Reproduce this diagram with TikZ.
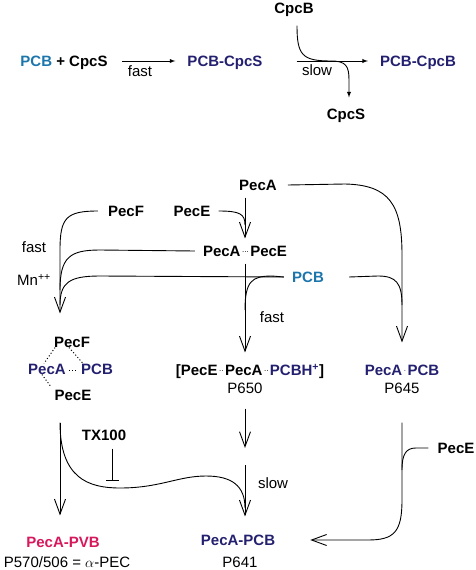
\documentclass[tikz,border=0pt]{standalone}
\usepackage{fontspec}
\setmainfont{Liberation Sans}
\usepackage{tikz}
\usetikzlibrary{arrows.meta}
\tikzset{>=latex}
\definecolor{pcbblue}{RGB}{28,118,172}
\definecolor{cnavy}{RGB}{36,32,112}
\definecolor{pvbpink}{RGB}{214,24,92}
\newcommand\bdots[1]{\hspace{1.5pt}\raisebox{3.5pt}{\fontsize{8}{8}\selectfont\mdseries #1}\hspace{1.5pt}}
\tikzset{
  lbl/.style={inner sep=0pt, anchor=center, text height=10.7pt, text depth=0pt,
    font=\fontsize{15}{18}\selectfont},
  mol/.style={lbl, font=\fontsize{15}{18}\selectfont\bfseries},
  pathln/.style={line width=0.9pt},
  bigarrow/.style={pathln, -{Straight Barb[length=15pt,width=11pt]}},
  dotbond/.style={line width=1pt, dash pattern=on 1pt off 2.2pt},
}

\begin{document}
\begin{tikzpicture}[x=1pt,y=-1pt]
      \useasboundingbox (0,0) rectangle (475,570);

      \node [mol] (pcbS) at (64,61) {\textcolor{pcbblue}{PCB} + CpcS};
      \node [lbl] (fastA) at (140,71) {fast};
      \node [mol,text=cnavy] (pcbcpcs) at (225,61) {PCB-CpcS};
      \node [mol] (cpcb) at (294,8) {CpcB};
      \node [lbl] (slowA) at (317,70) {slow};
      \node [mol] (cpcs) at (346,114) {CpcS};
      \node [mol,text=cnavy] (pcbcpcb) at (418,61) {PCB-CpcB};
      \coordinate (jB) at (331,61);

      \draw [pathln, ->, shorten <=14pt, shorten >=12pt] (pcbS.east) -- (pcbcpcs.west);
      \draw [pathln, ->, shorten <=34pt, shorten >=12pt] (pcbcpcs.east) -- (pcbcpcb.west);
      \draw [pathln] ([shift={(3pt,-12pt)}]cpcb.south) .. controls (297,55) and (302,61) .. (jB);
      \draw [pathln, ->] (jB) .. controls (346,61) and (349,66) .. (349,80)
        -- ([shift={(3pt,11pt)}]cpcs.north);

      \node [mol] (pecA) at (258,185) {PecA};
      \node [mol] (pecF) at (126,211) {PecF};
      \node [mol] (pecE) at (192,211) {PecE};
      \node [mol] (pecAE) at (245,251) {PecA\bdots{...}PecE};
      \node [mol,text=pcbblue] (pcb) at (308,277) {PCB};
      \node [lbl] (fastB) at (34,247) {fast};
      \node [lbl] (mn) at (34,280) {Mn\textsuperscript{++}};
      \node [lbl] (fastC) at (272,317) {fast};

      \node [mol] (pecF2) at (72,342) {PecF};
      \node [mol,text=cnavy] (pecA2) at (47,369) {PecA};
      \node [mol,text=cnavy] (pcb2) at (97,369) {PCB};
      \node [mol] (pecE2) at (73,395) {PecE};

      \node [mol] (cplx) at (250,370)
        {[PecE\bdots{..}PecA\bdots{..}\textcolor{cnavy}{PCBH\textsuperscript{+}}]};
      \node [lbl] (p650) at (245,388) {P650};
      \node [mol,text=cnavy] (pecApcb) at (402,370) {PecA\bdots{.}PCB};
      \node [lbl] (p645) at (402,388) {P645};

      \node [mol] (tx) at (104,435) {TX100};
      \node [lbl] (slowB) at (273,483) {slow};
      \node [mol] (pecE3) at (456,448) {PecE};

      \node [mol,text=pvbpink] (pvb) at (63,542) {PecA-PVB};
      \node [lbl] (p570) at (67,562) {P570/506 = $\alpha$-PEC};
      \node [mol,text=cnavy] (pecAPCB) at (238,540) {PecA-PCB};
      \node [lbl] (p641) at (240,562) {P641};

      \coordinate (jE) at (245,225);
      \coordinate (stepC) at (245,456);

      \draw [bigarrow] ([shift={(-13pt,-7pt)}]pecA.south) -- ([yshift=7pt]pecAE.north);
      \draw [pathln] ([xshift=8pt]pecE.east) .. controls (240,211) and (245,214) .. (jE);

      \draw [bigarrow] ([xshift=-10pt]pecF.west) .. controls (66,211) and (60,218) .. (60,250)
        -- ([shift={(-12pt,23pt)}]pecF2.north);
      \draw [pathln] ([xshift=-8pt]pecAE.west) -- (100,250) .. controls (70,250) and (60,257) .. (60,290);
      \draw [pathln] ([xshift=-8pt]pcb.west) -- (100,276) .. controls (70,276) and (60,282) .. (60,305);
      \draw [pathln] ([xshift=-8pt]pcb.west) -- (272,276) .. controls (252,276) and (245,281) .. (245,310);
      \draw [bigarrow, shorten <=7pt, shorten >=12pt] (pecAE.south) -- (pecAE.south |- cplx.north);

      \draw [bigarrow] ([xshift=11pt]pecA.east) -- (345,184) .. controls (390,185) and (402,205) .. (402,255)
        -- ([yshift=22pt]pecApcb.north);
      \draw [pathln] ([xshift=25pt]pcb.east) -- (378,276) .. controls (396,276) and (402,283) .. (402,305);

      \draw [dotbond] ([xshift=-17pt]pecF2.south) -- ([xshift=-3pt]pecA2.north);
      \draw [dotbond] ([xshift=-3pt]pecF2.south) -- ([xshift=-14pt]pcb2.north);
      \draw [dotbond, shorten <=3pt, shorten >=3pt] ([yshift=-1pt]pecA2.east) -- ([yshift=-1pt]pcb2.west);
      \draw [dotbond] ([xshift=-5pt]pecA2.south) -- ([shift={(-3pt,2pt)}]pecE2.north west);

      \draw [bigarrow] ([yshift=-15pt]p650.south) -- ([yshift=8pt]stepC);
      \draw [bigarrow] ([yshift=-9pt]stepC) -- ([shift={(7pt,18pt)}]pecAPCB.north);

      \draw [bigarrow] ([shift={(-13pt,-22pt)}]pecE2.south) -- ([shift={(-3pt,21pt)}]pvb.north);
      \draw [pathln] ([shift={(-13pt,-22pt)}]pecE2.south) .. controls (60,478) and (88,488) .. (120,488)
        .. controls (160,488) and (178,476) .. (206,476) .. controls (232,476) and (245,486) .. (245,508);
      \draw [pathln, -{Bar[width=13pt]}] ([shift={(8pt,-8pt)}]tx.south) -- ([shift={(8pt,-40pt)}]tx.south);

      \draw [bigarrow] ([yshift=-29pt]p645.south) -- (402,500) .. controls (402,532) and (394,540) .. (368,540)
        -- ([xshift=35pt]pecAPCB.east);
      \draw [pathln] ([xshift=-9pt]pecE3.west) -- (416,448) .. controls (406,448) and (402,454) .. (402,470);
  \end{tikzpicture}
\end{document}
